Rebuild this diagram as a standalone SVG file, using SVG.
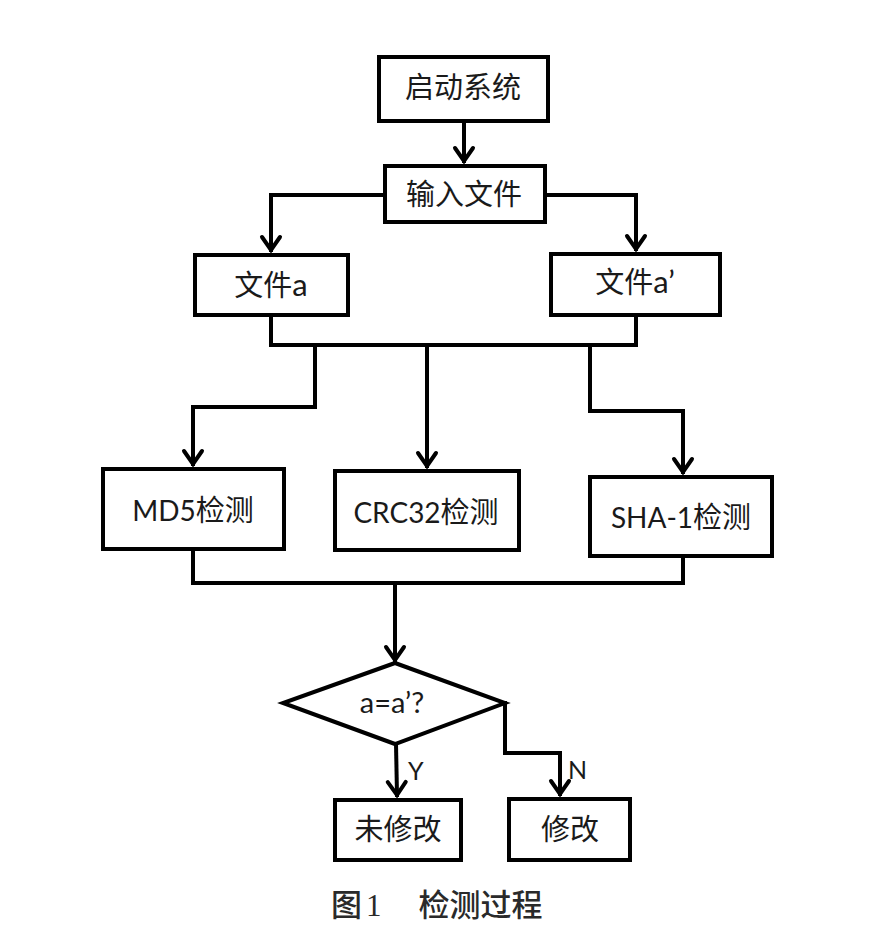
<svg xmlns="http://www.w3.org/2000/svg" width="877" height="949" viewBox="0 0 877 949">
<style>
.box{fill:#fff;stroke:#000;stroke-width:4;stroke-linejoin:miter}
.ln{fill:none;stroke:#000;stroke-width:4;stroke-linejoin:miter;stroke-linecap:square}
.t{font-family:"Noto Sans CJK SC","Lato",sans-serif;font-size:29px;fill:#1a1a1a;text-anchor:middle}
.lat{font-family:"Lato","Noto Sans CJK SC",sans-serif;font-size:28px}
.yn{font-family:"Lato",sans-serif;font-size:25px;fill:#1a1a1a}
.cap{font-family:"Noto Sans CJK SC",sans-serif;font-size:31px;fill:#2a2a2a;font-weight:500}
</style>
<defs>
<marker id="arr" markerUnits="userSpaceOnUse" viewBox="-18 -13 22 26" markerWidth="22" markerHeight="26" refX="0" refY="0" orient="auto">
<path d="M-13,-9 L0,0 L-13,9" fill="none" stroke="#000" stroke-width="4" stroke-linejoin="miter" stroke-linecap="round"/>
</marker>
</defs>
<rect width="877" height="949" fill="#fff"/>
<g id="connectors">
<path class="ln" d="M464,123 L464,161" marker-end="url(#arr)"/>
<path class="ln" d="M383,195 L271,195 L271,250" marker-end="url(#arr)"/>
<path class="ln" d="M547,195 L636,195 L636,249" marker-end="url(#arr)"/>
<path class="ln" d="M271,317 L271,345 L636,345 M636,317 L636,345"/>
<path class="ln" d="M315,345 L315,407 L193,407 L193,464" marker-end="url(#arr)"/>
<path class="ln" d="M427,345 L427,466" marker-end="url(#arr)"/>
<path class="ln" d="M590,345 L590,411 L683,411 L683,472" marker-end="url(#arr)"/>
<path class="ln" d="M193,551 L193,583 L683,583 L683,558"/>
<path class="ln" d="M395,583 L395,660" marker-end="url(#arr)"/>
<path class="ln" d="M396,744 L397,795" marker-end="url(#arr)"/>
<path class="ln" d="M505,703 L505,753 L560,753 L560,794" marker-end="url(#arr)"/>
<text class="yn" x="408" y="780">Y</text>
<text class="yn" x="568" y="779">N</text>
</g>
<g id="start"><rect class="box" x="379" y="57" width="169" height="64"/><text class="t" x="463" y="98">启动系统</text></g>
<g id="input"><rect class="box" x="385" y="166" width="160" height="56"/><text class="t" x="464" y="205">输入文件</text></g>
<g id="fileA"><rect class="box" x="195" y="255" width="153" height="60"/><text class="t" x="271" y="296">文件<tspan class="lat" style="font-size:31px">a</tspan></text></g>
<g id="fileA2"><rect class="box" x="551" y="254" width="169" height="61"/><text class="t" x="635" y="293">文件<tspan class="lat" style="font-size:31px">a’</tspan></text></g>
<g id="md5"><rect class="box" x="103" y="469" width="181" height="80"/><text class="t" x="193" y="521"><tspan class="lat">MD5</tspan>检测</text></g>
<g id="crc32"><rect class="box" x="335" y="471" width="184" height="79"/><text class="t" x="426" y="523"><tspan class="lat">CRC32</tspan>检测</text></g>
<g id="sha1"><rect class="box" x="590" y="477" width="182" height="79"/><text class="t" x="681" y="528"><tspan class="lat">SHA-1</tspan>检测</text></g>
<g id="decision"><polygon class="box" points="395,663 505,703 395,744 283,703"/><text class="t lat" x="392" y="713" style="font-size:29px">a=a’?</text></g>
<g id="unmodified"><rect class="box" x="335" y="800" width="126" height="60"/><text class="t" x="398" y="840">未修改</text></g>
<g id="modified"><rect class="box" x="509" y="799" width="121" height="61"/><text class="t" x="570" y="840">修改</text></g>
<text class="cap" x="331" y="916">图<tspan font-family="Liberation Serif" dx="4">1</tspan><tspan dx="30"> 检测过程</tspan></text>
</svg>
